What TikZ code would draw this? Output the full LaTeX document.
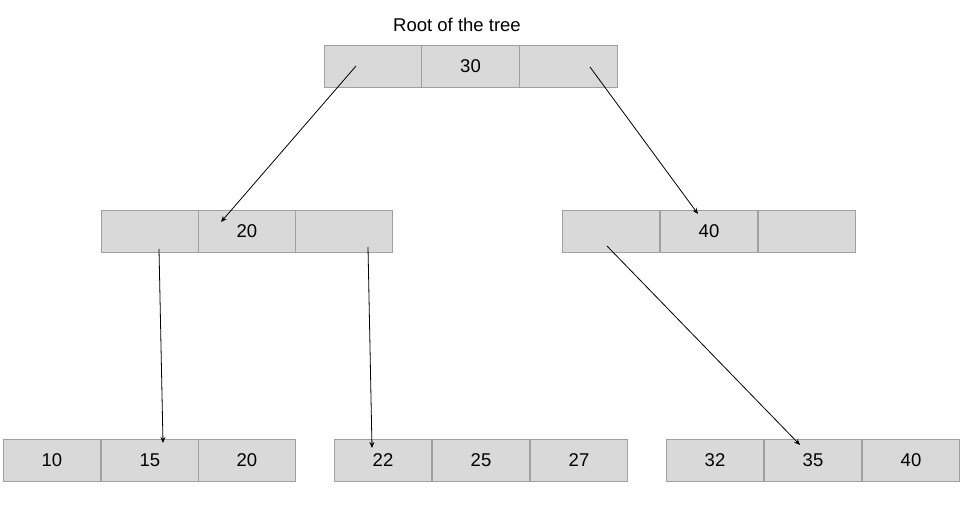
\documentclass[tikz,border=0pt]{standalone}
\usepackage{fontspec}
\setmainfont{Liberation Sans}
\usetikzlibrary{arrows.meta}
\definecolor{cellfill}{HTML}{D9D9D9}
\definecolor{cellline}{HTML}{A0A0A0}
\tikzset{
  cell/.style={draw=cellline, fill=cellfill, line width=0.9bp, minimum width=97.5bp, minimum height=42bp, inner sep=0pt, font=\fontsize{18.5bp}{21bp}\selectfont},
  ptr/.style={line width=0.8bp, -{Stealth[length=6bp,width=5bp]}},
  title/.style={font=\fontsize{18.5bp}{21bp}\selectfont, inner sep=0pt}
}
\begin{document}
\begin{tikzpicture}[x=1bp,y=-1bp]
\useasboundingbox (0,0) rectangle (962,509);
% root
\node[title] (t) at (457,25) {Root of the tree};
\node[cell] (r1) at (373,66.5) {};
\node[cell] (r2) at (470.5,66.5) {30};
\node[cell] (r3) at (568.5,66.5) {};
% level 2 left
\node[cell] (a1) at (150,231) {};
\node[cell] (a2) at (247,231) {20};
\node[cell] (a3) at (344,231) {};
% level 2 right
\node[cell] (b1) at (611,231) {};
\node[cell] (b2) at (709,231) {40};
\node[cell] (b3) at (807,231) {};
% leaves
\node[cell] (c1) at (52,460) {10};
\node[cell] (c2) at (150,460) {15};
\node[cell] (c3) at (247,460) {20};
\node[cell] (d1) at (383,460) {22};
\node[cell] (d2) at (481,460) {25};
\node[cell] (d3) at (579,460) {27};
\node[cell] (e1) at (715,460) {32};
\node[cell] (e2) at (813,460) {35};
\node[cell] (e3) at (911,460) {40};
% pointer points
\coordinate (pr1) at (356,66);
\coordinate (pr3) at (590,67);
\coordinate (pa2) at (221,222);
\coordinate (pb2) at (698,214);
\coordinate (pa1) at (159,249);
\coordinate (pa3) at (368,247);
\coordinate (pb1) at (607,246);
\coordinate (pc2) at (163,443);
\coordinate (pd1) at (372,448);
\coordinate (pe2) at (800,445);
\draw[ptr] (pr1) -- (pa2);
\draw[ptr] (pr3) -- (pb2);
\draw[ptr] (pa1) -- (pc2);
\draw[ptr] (pa3) -- (pd1);
\draw[ptr] (pb1) -- (pe2);
\end{tikzpicture}
\end{document}
